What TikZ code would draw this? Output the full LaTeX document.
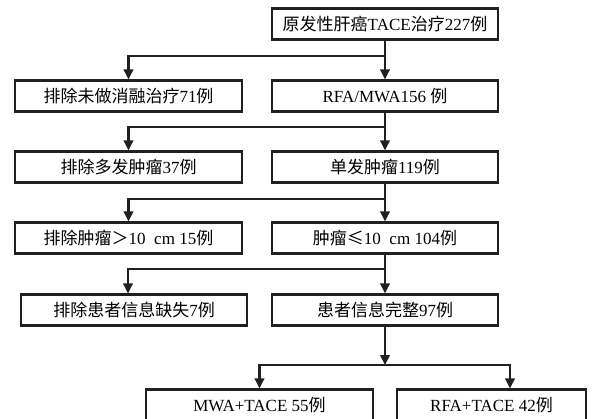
\documentclass[tikz,border=0pt]{standalone}
\usepackage{fontspec}
\setmainfont{Liberation Serif}
\newfontfamily\cjk{Noto Sans CJK SC}
\usetikzlibrary{arrows.meta}
\definecolor{linec}{HTML}{231F20}
\begin{document}
\begin{tikzpicture}[x=1pt,y=-1pt,
  box/.style={draw=linec, line width=2.2pt, minimum height=31pt, inner sep=0pt,
    font=\fontsize{17}{19}\selectfont, text=black},
  arr/.style={-{Triangle[length=10pt,width=9.5pt]}, line width=2.2pt, draw=linec},
  ln/.style={line width=2.2pt, draw=linec}]
\useasboundingbox (0,0) rectangle (592,418);
\clip (0,0) rectangle (592,418);
% boxes
\node[box, minimum width=226pt] (top) at (385,24) {{\cjk 原发性肝癌}TACE{\cjk 治疗}227{\cjk 例}};
\node[box, minimum width=227pt] (l2) at (128.5,96) {{\cjk 排除未做消融治疗}71{\cjk 例}};
\node[box, minimum width=226pt] (r2) at (385,96) {RFA/MWA156 {\cjk 例}};
\node[box, minimum width=227pt] (l3) at (128.5,167) {{\cjk 排除多发肿瘤}37{\cjk 例}};
\node[box, minimum width=226pt] (r3) at (385,167) {{\cjk 单发肿瘤}119{\cjk 例}};
\node[box, minimum width=227pt] (l4) at (128.5,238) {{\cjk 排除肿瘤＞}10~~cm 15{\cjk 例}};
\node[box, minimum width=226pt] (r4) at (385,238) {{\cjk 肿瘤≤}10~~cm 104{\cjk 例}};
\node[box, minimum width=226pt] (l5) at (134,310) {{\cjk 排除患者信息缺失}7{\cjk 例}};
\node[box, minimum width=226pt] (r5) at (385,310) {{\cjk 患者信息完整}97{\cjk 例}};
\node[box, minimum width=227pt] (b1) at (259.5,405) {MWA+TACE 55{\cjk 例}};
\node[box, minimum width=189pt] (b2) at (491.5,405) {RFA+TACE 42{\cjk 例}};
% junctions
\coordinate (j1) at (385,56);
\coordinate (j2) at (385,127);
\coordinate (j3) at (385,199);
\coordinate (j4) at (385,269);
\coordinate (k4) at (128,269);
\coordinate (j5) at (385,365);
\coordinate (m2) at (510,365);
% connectors
\draw[arr] (top.south) -- (r2.north);
\draw[arr] (top.south) -- (j1) -| (l2.north);
\draw[arr] (r2.south) -- (r3.north);
\draw[arr] (r2.south) -- (j2) -| (l3.north);
\draw[arr] (r3.south) -- (r4.north);
\draw[arr] (r3.south) -- (j3) -| (l4.north);
\draw[arr] (r4.south) -- (r5.north);
\draw[arr] (r4.south) -- (j4) -- (k4) -- (k4 |- l5.north);
\draw[arr] (r5.south) -- (j5);
\draw[arr] (j5) -| (b1.north);
\draw[arr] (j5) -- (m2) -- (m2 |- b2.north);
\end{tikzpicture}
\end{document}
